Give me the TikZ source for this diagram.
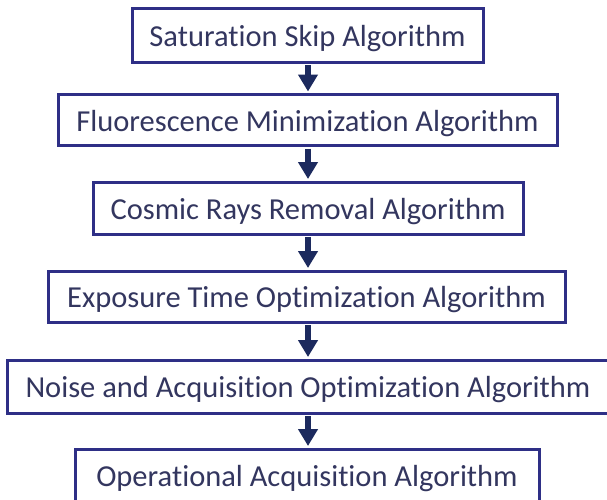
\documentclass[tikz,border=0pt]{standalone}
\usepackage{fontspec}
\setmainfont{Carlito}[Ligatures={NoCommon,NoContextual}]
\usetikzlibrary{arrows.meta}
\definecolor{boxline}{HTML}{2E2F86}
\definecolor{boxtext}{HTML}{33365F}
\definecolor{arrowcol}{HTML}{1C2A5E}
\tikzset{
  algobox/.style={draw=boxline, line width=3pt, fill=white, rectangle,
    inner sep=0pt, text=boxtext, font=\fontsize{30.5}{36}\selectfont,
    text height=24pt, text depth=1.4pt},
  flowarrow/.style={draw=arrowcol, line width=6pt,
    -{Triangle[width=19pt,length=17pt]}, shorten <=1.5pt, shorten >=1.5pt}
}
\begin{document}
\begin{tikzpicture}[x=1pt,y=-1pt]
  \useasboundingbox (0,0) rectangle (607,499);
  \clip (0,0) rectangle (607,499);
  \fill[white] (0,0) rectangle (607,499);
  \node[algobox, minimum width=351pt, minimum height=54pt] (sat) at (307.5,35) {Saturation Skip Algorithm};
  \node[algobox, minimum width=499pt, minimum height=51pt] (flu) at (307.5,120) {Fluorescence Minimization Algorithm};
  \node[algobox, minimum width=430pt, minimum height=52pt] (cos) at (308,208) {Cosmic Rays Removal Algorithm};
  \node[algobox, minimum width=517pt, minimum height=51pt] (exp) at (306.5,296.5) {Exposure Time Optimization Algorithm};
  \node[algobox, minimum width=601pt, minimum height=53pt] (noi) at (308,386.5) {Noise and Acquisition Optimization Algorithm};
  \node[algobox, minimum width=464pt, minimum height=52pt] (ope) at (307,475) {Operational Acquisition Algorithm};
  \draw[flowarrow] (sat.south -| 308,0) -- (flu.north -| 308,0);
  \draw[flowarrow] (flu.south -| 308,0) -- (cos.north -| 308,0);
  \draw[flowarrow] (cos.south -| 308,0) -- (exp.north -| 308,0);
  \draw[flowarrow] (exp.south -| 308,0) -- (noi.north -| 308,0);
  \draw[flowarrow] (noi.south -| 308,0) -- (ope.north -| 308,0);
\end{tikzpicture}
\end{document}
